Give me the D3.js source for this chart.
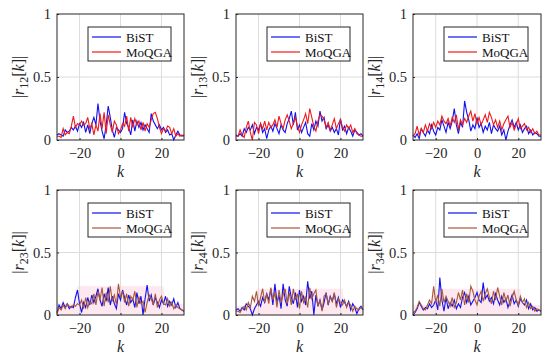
<!DOCTYPE html>
<html><head><meta charset="utf-8">
<script src="https://cdn.jsdelivr.net/npm/d3@7"></script>
<style>body{margin:0;background:#fff}svg{display:block}</style>
</head><body>
<svg id="c" width="550" height="360"></svg>
<script>
// ---- data ----
const lags = d3.range(-31, 32); // k = -31..31
const xTicks = [-20, 0, 20];
const yTicks = [0, 0.5, 1];
const yTickLabels = ["0", "0.5", "1"];
const seriesNames = ["BiST", "MoQGA"];
const pairLabels = ["12", "13", "14", "23", "24", "34"];

const r12BiST = [0.04,0.05,0.04,0.03,0.08,0.06,0.07,0.10,0.08, 0.11,0.07,0.13,0.10,0.14,0.06,0.12,0.05,0.13, 0.18,0.12,0.29,0.15,0.07,0.01,0.12,0.27,0.18, 0.08,0.02,0.10,0.08,0.06,0.09,0.22,0.13,0.10, 0.04,0.16,0.07,0.15,0.10,0.14,0.08,0.12,0.09, 0.06,0.21,0.15,0.12,0.09,0.12,0.08,0.10,0.06, 0.08,0.04,0.05,0.00,0.04,0.07,0.04,0.03,0.04];
const r12MoQGA = [0.03,0.03,0.02,0.09,0.04,0.06,0.05,0.11,0.19, 0.10,0.13,0.12,0.15,0.12,0.13,0.18,0.09,0.13, 0.04,0.12,0.07,0.21,0.09,0.22,0.05,0.20,0.12, 0.06,0.15,0.12,0.05,0.08,0.13,0.11,0.19,0.07, 0.18,0.10,0.17,0.12,0.15,0.08,0.14,0.07,0.13, 0.10,0.16,0.21,0.22,0.17,0.10,0.05,0.09,0.07, 0.11,0.10,0.05,0.09,0.03,0.05,0.03,0.04,0.03];
const r13BiST = [0.04,0.03,0.05,0.03,0.09,0.06,0.10,0.08,0.12, 0.05,0.10,0.08,0.13,0.06,0.09,0.01,0.08,0.11, 0.07,0.13,0.09,0.05,0.12,0.08,0.06,0.13,0.17, 0.23,0.12,0.22,0.08,0.12,0.06,0.10,0.14,0.05, 0.03,0.13,0.08,0.15,0.11,0.23,0.15,0.18,0.09, 0.12,0.07,0.10,0.06,0.09,0.04,0.17,0.08,0.11, 0.05,0.10,0.07,0.03,0.08,0.06,0.04,0.05,0.03];
const r13MoQGA = [0.03,0.03,0.08,0.04,0.02,0.10,0.15,0.06,0.00, 0.14,0.12,0.05,0.13,0.09,0.15,0.08,0.14,0.10, 0.12,0.16,0.10,0.19,0.13,0.09,0.16,0.20,0.15, 0.09,0.13,0.18,0.11,0.06,0.12,0.16,0.21,0.13, 0.25,0.18,0.11,0.07,0.15,0.20,0.19,0.16,0.10, 0.14,0.08,0.12,0.17,0.09,0.13,0.16,0.10,0.07, 0.12,0.09,0.12,0.06,0.09,0.05,0.04,0.03,0.03];
const r14BiST = [0.04,0.02,0.05,0.01,0.09,0.06,0.03,0.08,0.05, 0.12,0.07,0.04,0.10,0.08,0.16,0.11,0.06,0.14, 0.09,0.15,0.25,0.12,0.05,0.14,0.10,0.31,0.22, 0.16,0.07,0.12,0.09,0.18,0.10,0.13,0.06,0.11, 0.08,0.14,0.05,0.12,0.09,0.07,0.11,0.04,0.08, 0.00,0.07,0.12,0.16,0.10,0.14,0.08,0.12,0.06, 0.09,0.11,0.05,0.08,0.04,0.06,0.05,0.03,0.03];
const r14MoQGA = [0.03,0.05,0.11,0.04,0.09,0.06,0.12,0.07,0.13, 0.09,0.14,0.10,0.15,0.12,0.19,0.15,0.13,0.17, 0.11,0.18,0.14,0.20,0.08,0.16,0.12,0.17,0.14, 0.19,0.23,0.15,0.21,0.13,0.18,0.12,0.16,0.20, 0.14,0.22,0.18,0.12,0.16,0.10,0.15,0.08,0.13, 0.16,0.19,0.10,0.14,0.08,0.12,0.17,0.09,0.11, 0.13,0.08,0.10,0.06,0.09,0.05,0.07,0.04,0.04];
const r23BiST = [0.02,0.08,0.05,0.10,0.06,0.09,0.05,0.07,0.06, 0.14,0.20,0.09,0.02,0.10,0.06,0.14,0.08,0.16, 0.10,0.15,0.21,0.12,0.07,0.17,0.11,0.22,0.08, 0.15,0.09,0.05,0.17,0.12,0.20,0.14,0.08,0.16, 0.10,0.13,0.06,0.18,0.09,0.15,0.00,0.13,0.24, 0.11,0.16,0.08,0.14,0.10,0.06,0.12,0.09,0.15, 0.07,0.11,0.08,0.13,0.06,0.10,0.05,0.04,0.03];
const r23MoQGA = [0.01,0.06,0.04,0.08,0.05,0.09,0.07,0.06,0.08, 0.07,0.09,0.08,0.12,0.05,0.14,0.06,0.11,0.09, 0.17,0.08,0.19,0.12,0.22,0.07,0.18,0.10,0.23, 0.11,0.16,0.08,0.25,0.14,0.19,0.10,0.17,0.07, 0.15,0.12,0.19,0.06,0.14,0.09,0.11,0.02,0.10, 0.16,0.13,0.08,0.17,0.06,0.12,0.15,0.09,0.08, 0.13,0.07,0.10,0.05,0.08,0.06,0.05,0.04,0.03];
const r24BiST = [0.04,0.05,0.03,0.06,0.04,0.09,0.07,0.05,0.00, 0.05,0.08,0.11,0.07,0.14,0.10,0.17,0.12,0.21, 0.08,0.25,0.10,0.16,0.05,0.25,0.12,0.07,0.23, 0.14,0.09,0.18,0.06,0.20,0.11,0.15,0.08,0.27, 0.13,0.19,0.00,0.16,0.07,0.12,0.04,0.10,0.18, 0.08,0.15,0.11,0.17,0.09,0.14,0.06,0.12,0.10, 0.07,0.11,0.04,0.09,0.06,0.01,0.05,0.07,0.04];
const r24MoQGA = [0.03,0.03,0.02,0.05,0.07,0.04,0.10,0.06,0.15, 0.11,0.19,0.07,0.14,0.21,0.10,0.17,0.09,0.22, 0.12,0.18,0.06,0.20,0.10,0.16,0.21,0.09,0.18, 0.08,0.21,0.12,0.17,0.05,0.19,0.10,0.14,0.06, 0.22,0.13,0.17,0.20,0.07,0.12,0.03,0.15,0.17, 0.09,0.14,0.11,0.18,0.06,0.13,0.10,0.08,0.12, 0.06,0.10,0.08,0.03,0.07,0.05,0.04,0.06,0.04];
const r34BiST = [0.00,0.02,0.05,0.10,0.07,0.04,0.06,0.05,0.09, 0.06,0.08,0.12,0.04,0.30,0.12,0.03,0.14,0.05, 0.10,0.07,0.12,0.05,0.09,0.06,0.14,0.18,0.10, 0.15,0.08,0.11,0.14,0.18,0.12,0.10,0.26,0.13, 0.16,0.11,0.14,0.09,0.17,0.12,0.08,0.15,0.10, 0.13,0.06,0.11,0.16,0.09,0.12,0.07,0.13,0.10, 0.08,0.12,0.05,0.09,0.04,0.06,0.03,0.04,0.03];
const r34MoQGA = [0.02,0.03,0.06,0.11,0.08,0.05,0.04,0.08,0.12, 0.09,0.23,0.10,0.16,0.07,0.21,0.10,0.15,0.11, 0.07,0.14,0.06,0.10,0.18,0.12,0.20,0.08,0.17, 0.10,0.23,0.19,0.12,0.08,0.15,0.19,0.11,0.17, 0.21,0.14,0.09,0.19,0.12,0.22,0.15,0.08,0.18, 0.11,0.16,0.07,0.14,0.19,0.12,0.08,0.15,0.10, 0.13,0.06,0.10,0.05,0.07,0.03,0.05,0.04,0.03];

// faint shaded band (bottom row)
const bandK = [-31, -22, -21, 21, 22, 31];
const band23 = [0.09, 0.09, 0.23, 0.23, 0.09, 0.09];
const band24 = [0.07, 0.07, 0.21, 0.21, 0.07, 0.07];
const band34 = [0.08, 0.08, 0.21, 0.21, 0.08, 0.08];

const bistSeries = [r12BiST, r13BiST, r14BiST, r23BiST, r24BiST, r34BiST];
const moqgaSeries = [r12MoQGA, r13MoQGA, r14MoQGA, r23MoQGA, r24MoQGA, r34MoQGA];
const bandSeries = [null, null, null, band23, band24, band34];

// ---- layout ----
const svg = d3.select("#c");
const FONT = "'Liberation Serif','Times New Roman',serif";
const cols = [[57, 184], [236, 363], [413, 541]];
const rows = [[14, 140], [190, 315]];
const blue = "#1010f0";
const redTop = "#f01818";
const brown = "#a9573a";
const axisCol = "#262626";

pairLabels.forEach((lab, i) => {
  const c = cols[i % 3], r = rows[Math.floor(i / 3)];
  const x = d3.scaleLinear().domain([-31, 31]).range(c);
  const y = d3.scaleLinear().domain([0, 1]).range([r[1], r[0]]);
  const g = svg.append("g");

  if (bandSeries[i]) {
    const bd = bandK.map((k, j) => ({k, v: bandSeries[i][j]}));
    g.append("path").datum(bd)
      .attr("fill", "#fde8f0")
      .attr("d", d3.area().x(d => x(d.k)).y0(y(0)).y1(d => y(d.v)));
  }

  g.selectAll(".gx").data(xTicks).enter().append("line")
    .attr("x1", d => x(d)).attr("x2", d => x(d)).attr("y1", r[0]).attr("y2", r[1])
    .attr("stroke", "#dcdcdc").attr("stroke-width", 1);
  g.selectAll(".gy").data([0.5]).enter().append("line")
    .attr("y1", d => y(d)).attr("y2", d => y(d)).attr("x1", c[0]).attr("x2", c[1])
    .attr("stroke", "#dcdcdc").attr("stroke-width", 1);

  const line = d3.line().x((d, j) => x(lags[j])).y(d => y(d));
  const moCol = i < 3 ? redTop : brown;
  g.append("path").datum(bistSeries[i]).attr("fill", "none")
    .attr("stroke", blue).attr("stroke-width", 1.1).attr("d", line);
  g.append("path").datum(moqgaSeries[i]).attr("fill", "none")
    .attr("stroke", moCol).attr("stroke-width", 1.1).attr("d", line);

  g.append("rect").attr("x", c[0]).attr("y", r[0])
    .attr("width", c[1] - c[0]).attr("height", r[1] - r[0])
    .attr("fill", "none").attr("stroke", axisCol).attr("stroke-width", 1);

  const xa = d3.axisBottom(x).tickValues(xTicks).tickSizeInner(-2).tickSizeOuter(0)
    .tickPadding(6).tickFormat(d => d < 0 ? "\u2212" + Math.abs(d) : d);
  const xg = g.append("g").attr("transform", `translate(0,${r[1]})`).call(xa);
  const ya = d3.axisLeft(y).tickValues(yTicks).tickSizeInner(-2).tickSizeOuter(0)
    .tickPadding(6).tickFormat((d, j) => yTickLabels[j]);
  const yg = g.append("g").attr("transform", `translate(${c[0]},0)`).call(ya);
  [xg, yg].forEach(a => {
    a.select(".domain").remove();
    a.selectAll("line").attr("stroke", axisCol);
    a.selectAll("text").attr("fill", "#262626").style("font-family", FONT).style("font-size", "14.5px");
  });
  xg.selectAll("text").attr("dy", "0.85em");

  g.append("text").attr("x", (c[0] + c[1]) / 2).attr("y", r[1] + 37)
    .attr("text-anchor", "middle").style("font-family", FONT).style("font-size", "16px")
    .style("font-style", "italic").attr("fill", "#262626").text("k");

  const yl = g.append("text")
    .attr("transform", `translate(${c[0] - 33},${(r[0] + r[1]) / 2}) rotate(-90)`)
    .attr("text-anchor", "middle").style("font-family", FONT).style("font-size", "16px")
    .attr("fill", "#262626");
  yl.append("tspan").text("|");
  yl.append("tspan").style("font-style", "italic").text("r");
  yl.append("tspan").attr("dy", 4).style("font-size", "12px").text(lab);
  yl.append("tspan").attr("dy", -4).text("[");
  yl.append("tspan").style("font-style", "italic").text("k");
  yl.append("tspan").text("]|");

  const lx = c[0] + 31, ly = r[0] + 13, lw = (c[1] - 13) - lx, lh = 34;
  const lg = g.append("g");
  lg.append("rect").attr("x", lx).attr("y", ly).attr("width", lw).attr("height", lh)
    .attr("fill", "#fff").attr("stroke", axisCol).attr("stroke-width", 1);
  const cols2 = [blue, moCol];
  seriesNames.forEach((n, j) => {
    const yy = ly + 10 + j * 15;
    lg.append("line").attr("x1", lx + 4).attr("x2", lx + 33).attr("y1", yy).attr("y2", yy)
      .attr("stroke", cols2[j]).attr("stroke-width", 1.2);
    lg.append("text").attr("x", lx + 38).attr("y", yy + 4.5)
      .style("font-family", FONT).style("font-size", "13px").attr("fill", "#111").text(n);
  });
});
</script>
</body></html>
